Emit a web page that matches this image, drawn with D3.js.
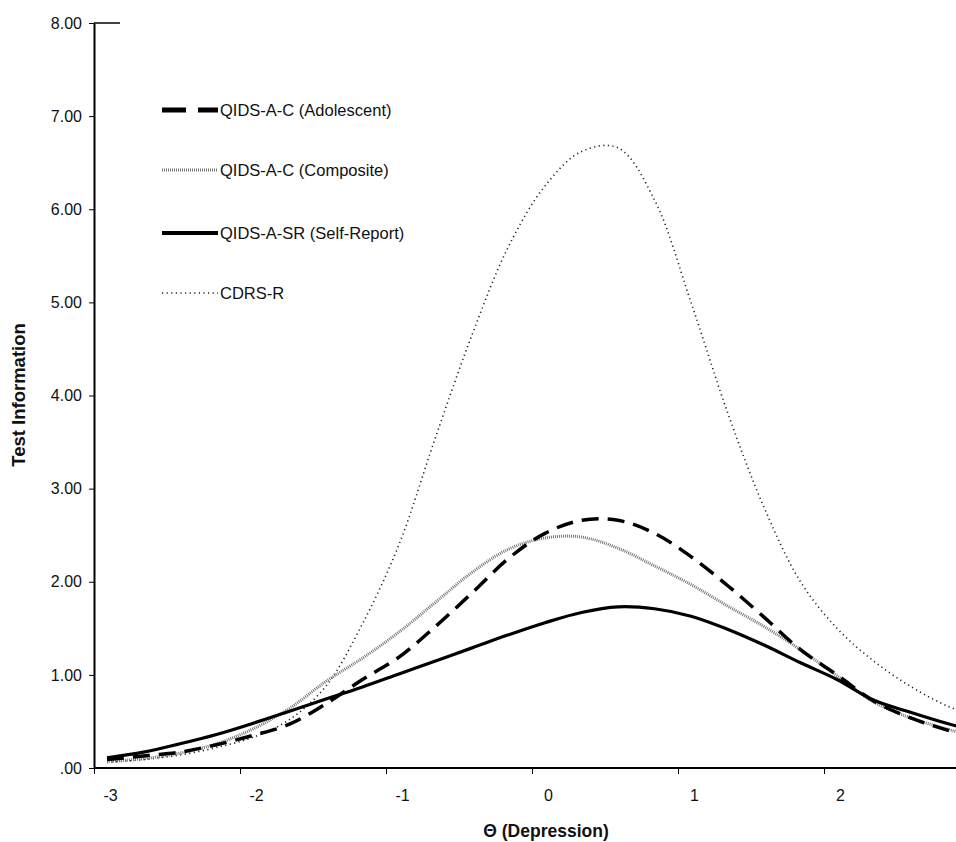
<!DOCTYPE html>
<html>
<head>
<meta charset="utf-8">
<script src="https://cdn.jsdelivr.net/npm/d3@7"></script>
<style>
  body { margin: 0; background: #fff; }
  svg text { font-family: "Liberation Sans", Arial, sans-serif; fill: #111; }
</style>
</head>
<body>
<div id="chart"></div>
<script>
// theta values (x) and test information per scale
var theta = [-3, -2.75, -2.5, -2.25, -2, -1.75, -1.5, -1.25, -1, -0.75, -0.5, -0.25,
             0, 0.25, 0.5, 0.75, 1, 1.25, 1.5, 1.75, 2, 2.25, 2.5, 2.75, 3];

var adolescent = [0.09, 0.13, 0.17, 0.25, 0.35, 0.47, 0.69, 0.95, 1.19, 1.52, 1.88, 2.25,
                  2.52, 2.66, 2.66, 2.52, 2.27, 1.96, 1.62, 1.27, 1.00, 0.72, 0.54, 0.41, 0.31];
var composite  = [0.07, 0.10, 0.16, 0.26, 0.42, 0.64, 0.93, 1.18, 1.46, 1.78, 2.10, 2.35,
                  2.47, 2.48, 2.36, 2.17, 1.97, 1.74, 1.52, 1.27, 0.99, 0.71, 0.54, 0.42, 0.31];
var selfReport = [0.11, 0.17, 0.26, 0.36, 0.48, 0.61, 0.74, 0.87, 1.01, 1.15, 1.29, 1.43,
                  1.56, 1.67, 1.73, 1.71, 1.63, 1.49, 1.32, 1.13, 0.95, 0.73, 0.60, 0.48, 0.38];
var cdrs       = [0.06, 0.09, 0.14, 0.22, 0.33, 0.52, 0.88, 1.55, 2.40, 3.55, 4.65, 5.60,
                  6.25, 6.62, 6.66, 6.10, 5.00, 3.82, 2.80, 2.00, 1.50, 1.15, 0.88, 0.67, 0.52];

var seriesNames = ["QIDS-A-C (Adolescent)", "QIDS-A-C (Composite)", "QIDS-A-SR (Self-Report)", "CDRS-R"];
var xTicks = [-3, -2, -1, 0, 1, 2];
var yTicks = [0, 1, 2, 3, 4, 5, 6, 7, 8];

var W = 956, H = 842;

var svg = d3.select("#chart")
    .append("svg")
    .attr("width", W)
    .attr("height", H);

// scales
var x = d3.scaleLinear().domain([-3, 3]).range([107, 983]);
var y = d3.scaleLinear().domain([0, 8]).range([768, 23]);

// line styles, one per series
var styles = [
    { stroke: "#000", width: 3.5, dash: "17,9", legendWidth: 5, legendDash: "24,12" },
    { stroke: "#777", width: 3, dash: "1,1", legendWidth: 3, legendDash: "1,1" },
    { stroke: "#000", width: 3.2, dash: null, legendWidth: 4, legendDash: null },
    { stroke: "#222", width: 1.6, dash: "1.2,3.4", legendWidth: 1.6, legendDash: "1.2,3.4" }
];
var allSeries = [adolescent, composite, selfReport, cdrs];

// clip so curves stop at the right edge
svg.append("clipPath").attr("id", "plotclip")
    .append("rect").attr("x", 94).attr("y", 0).attr("width", W - 94).attr("height", 768);

// Y axis
var yAxis = svg.append("g")
    .attr("transform", "translate(94,0)")
    .call(d3.axisLeft(y).tickValues(yTicks).tickSize(5).tickSizeOuter(0).tickPadding(7)
        .tickFormat(function (d) { return d === 0 ? ".00" : d.toFixed(2); }));
yAxis.select(".domain").attr("stroke-width", 2);
yAxis.selectAll("text").style("font-size", "16px");

// short line at top of plot
svg.append("line")
    .attr("x1", 94).attr("x2", 120)
    .attr("y1", y(8)).attr("y2", y(8))
    .attr("stroke", "#000").attr("stroke-width", 1.5);

// X axis
var xAxis = svg.append("g")
    .attr("transform", "translate(0,768)")
    .call(d3.axisBottom(x).tickValues(xTicks).tickSize(6).tickPadding(16)
        .tickFormat(function (d) { return String(d); }));
xAxis.select(".domain").remove();
xAxis.selectAll(".tick line").attr("x1", -13).attr("x2", -13);
xAxis.selectAll(".tick text").attr("x", 3).style("font-size", "16px");
xAxis.append("line")
    .attr("x1", 94).attr("x2", W)
    .attr("y1", 0).attr("y2", 0)
    .attr("stroke", "#000").attr("stroke-width", 2);

// curves
var line = d3.line()
    .x(function (d, i) { return x(theta[i]); })
    .y(function (d) { return y(d); })
    .curve(d3.curveCatmullRom.alpha(0.5));

var order = [3, 1, 0, 2];
order.forEach(function (k) {
    svg.append("path")
        .datum(allSeries[k])
        .attr("clip-path", "url(#plotclip)")
        .attr("fill", "none")
        .attr("stroke", styles[k].stroke)
        .attr("stroke-width", styles[k].width)
        .attr("stroke-dasharray", styles[k].dash)
        .attr("d", line);
});

// legend
var legendY = [110, 170, 233, 293];
seriesNames.forEach(function (name, i) {
    svg.append("line")
        .attr("x1", 162).attr("x2", 218)
        .attr("y1", legendY[i]).attr("y2", legendY[i])
        .attr("stroke", styles[i].stroke)
        .attr("stroke-width", styles[i].legendWidth)
        .attr("stroke-dasharray", styles[i].legendDash);
    svg.append("text")
        .attr("x", 220).attr("y", legendY[i] + 6)
        .style("font-size", "16.5px")
        .text(name);
});

// axis titles
svg.append("text")
    .attr("transform", "translate(25,395) rotate(-90)")
    .attr("text-anchor", "middle")
    .style("font-size", "18.5px").style("font-weight", "bold")
    .text("Test Information");

svg.append("text")
    .attr("x", 546).attr("y", 837)
    .attr("text-anchor", "middle")
    .style("font-size", "17.5px").style("font-weight", "bold")
    .text("\u0398 (Depression)");
</script>
</body>
</html>
